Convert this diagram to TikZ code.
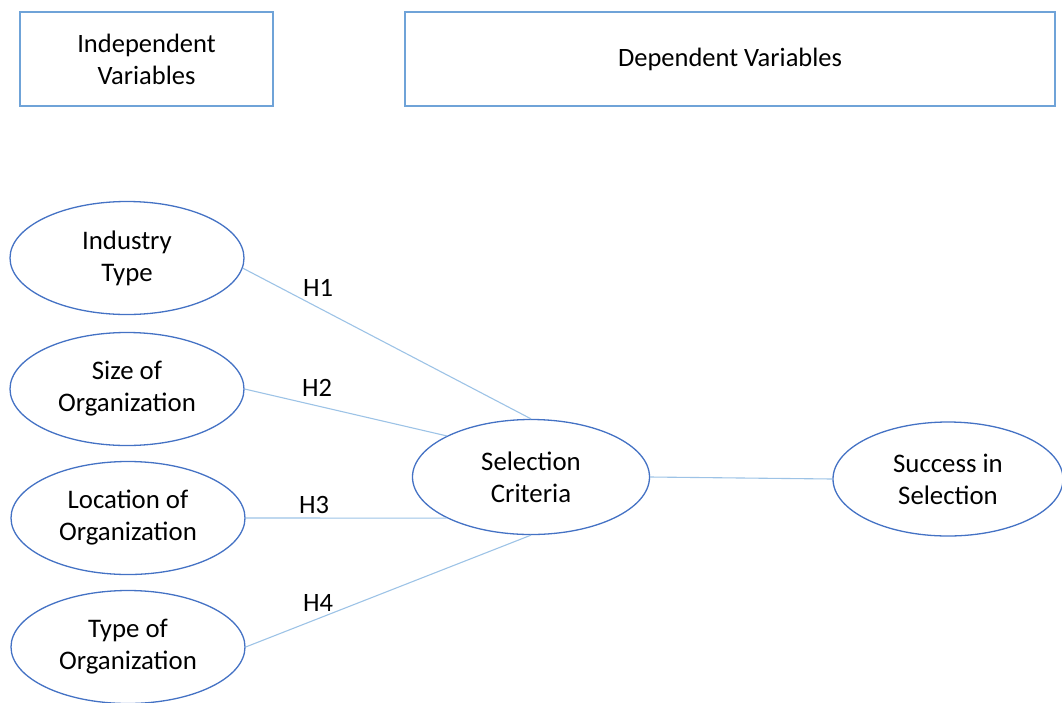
\documentclass[tikz,border=0pt]{standalone}
\usepackage{fontspec}
\setmainfont{Carlito}
\usetikzlibrary{shapes.geometric}
\definecolor{ellblue}{HTML}{4472C4}
\definecolor{boxblue}{HTML}{6FA3D8}
\definecolor{lineblue}{HTML}{9DC3E6}
\tikzset{
  var/.style={ellipse, draw=ellblue, line width=1.3pt, minimum width=234pt, minimum height=113pt, align=center, inner sep=0pt, font=\fontsize{26.8}{32}\selectfont},
  headbox/.style={draw=boxblue, line width=1.1pt, align=center, inner sep=0pt, font=\fontsize{26.5}{32}\selectfont},
  link/.style={draw=lineblue, line width=1.1pt},
  hlab/.style={font=\fontsize{26.5}{32}\selectfont, inner sep=0pt}
}
\begin{document}
\begin{tikzpicture}[x=1pt,y=-1pt]
\useasboundingbox (0,0) rectangle (1062,702);
\node[headbox, minimum width=253pt, minimum height=94pt] (indep) at (146.5,59) {Independent\\Variables};
\node[headbox, minimum width=650pt, minimum height=94pt] (dep) at (730,59) {Dependent Variables};
\node[var] (ind) at (127,258) {Industry\\Type};
\node[var] (size) at (127,389) {Size of\\Organization};
\node[var] (loc) at (128,518) {Location of\\Organization};
\node[var] (typ) at (128,647) {Type of\\Organization};
\node[var, minimum width=237pt, minimum height=115pt] (sel) at (531,477) {Selection\\Criteria};
\node[var, minimum width=230pt, minimum height=114pt] (succ) at (948,479) {Success in\\Selection};
\draw[link] (ind.-5) -- (sel.north);
\draw[link] (size.east) -- (sel.154);
\draw[link] (loc.east) -- (sel.206);
\draw[link] (typ.east) -- (sel.south);
\draw[link] (sel.east) -- (succ.west);
\node[hlab] (h1) at (318,288) {H1};
\node[hlab] (h2) at (317,388) {H2};
\node[hlab] (h3) at (314,505) {H3};
\node[hlab] (h4) at (318,603) {H4};
\end{tikzpicture}
\end{document}
